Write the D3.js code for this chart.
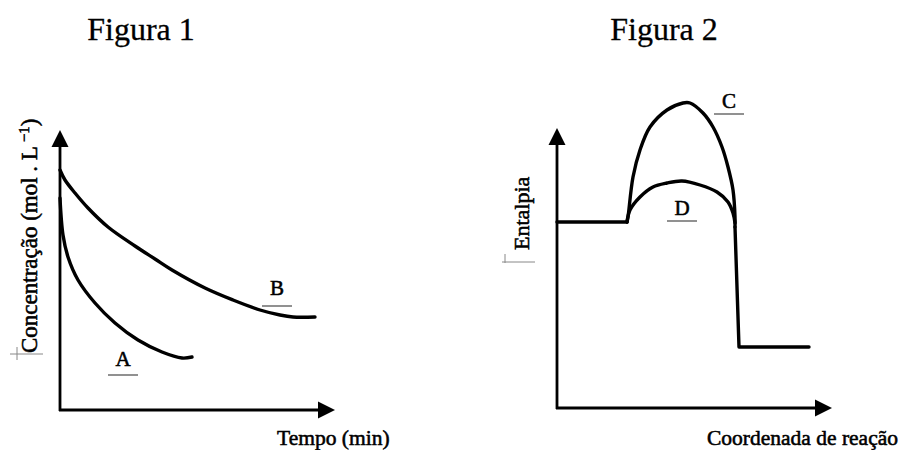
<!DOCTYPE html>
<html>
<head>
<meta charset="utf-8">
<script src="https://cdn.jsdelivr.net/npm/d3@7"></script>
<style>
  html, body { margin: 0; padding: 0; background: #fff; }
  svg { display: block; }
  text { font-family: "Liberation Serif", "Times New Roman", serif; fill: #000; }
  .lbl { stroke: #000; stroke-width: 0.55px; }
  .ttl { stroke: #000; stroke-width: 0.3px; }
</style>
</head>
<body>
<svg id="chart" width="904" height="450"></svg>
<script>
// ---------- DATA (arbitrary units) ----------
const titles = ["Figura 1", "Figura 2"];
const xLabels = ["Tempo (min)", "Coordenada de reação"];
const yLabel1 = "Concentração (mol . L";
const yLabel2 = "Entalpia";
const curveNames = ["A", "B", "C", "D"];

// Figura 1: concentration vs time
const curveA = [[0,212],[3,175],[8,153],[18,130],[35,107],[55,87],[78,70],[102,58],[122,52],[132,53]];
const curveB = [[0,240],[5,230],[15,217],[28,202],[48,183],[75,164],[95,151],[112,140],[145,122],[173,110],[200,100],[220,95],[233,93],[255,93]];

// Figura 2: enthalpy vs reaction coordinate
const reactantLevel = [[0,186],[70,186]];
const curveC = [[70,186],[71,191],[76,231],[83,258],[93,281],[110,298],[126,305],[133,305],[146,295],[156,281],[165,261],[171,241],[176,218],[178,191],[178,181]];
const curveD = [[70,186],[73,198],[83,211],[96,221],[110,225],[125,227],[143,223],[160,216],[171,206],[176,195],[178,185]];
const productDrop = [[178,181],[182,61],[252,61]];

// label anchor positions in data units
const labelPos1 = {A: [63,44], B: [217,115]};
const labelPos2 = {C: [172,300], D: [125,193]};

// ---------- DRAW ----------
const svg = d3.select("#chart");

const x1 = d3.scaleLinear().domain([0, 275]).range([60, 335]);
const y1 = d3.scaleLinear().domain([0, 280]).range([410, 130]);
const x2 = d3.scaleLinear().domain([0, 275]).range([557, 832]);
const y2 = d3.scaleLinear().domain([0, 280]).range([408, 128]);

function drawAxes(x, y) {
  const [x0, xEnd] = x.range();
  const [yBase, yTop] = y.range();
  const g = svg.append("g");
  const head = 17;
  g.append("line").attr("x1", x0).attr("y1", yBase + 1).attr("x2", x0).attr("y2", yTop + 8)
    .attr("stroke", "#000").attr("stroke-width", 2.8);
  g.append("line").attr("x1", x0 - 1).attr("y1", yBase).attr("x2", xEnd - 8).attr("y2", yBase)
    .attr("stroke", "#000").attr("stroke-width", 2.8);
  g.append("path")
    .attr("d", `M${x0 - head/2},${yTop + head}L${x0},${yTop}L${x0 + head/2},${yTop + head}Z`)
    .attr("fill", "#000");
  g.append("path")
    .attr("d", `M${xEnd - head},${yBase - head/2}L${xEnd},${yBase}L${xEnd - head},${yBase + head/2}Z`)
    .attr("fill", "#000");
}
drawAxes(x1, y1);
drawAxes(x2, y2);

function drawCurve(data, x, y, curve) {
  const line = d3.line().x(d => x(d[0])).y(d => y(d[1])).curve(curve);
  svg.append("path").attr("d", line(data))
    .attr("fill", "none").attr("stroke", "#000").attr("stroke-width", 3.4)
    .attr("stroke-linecap", "round").attr("stroke-linejoin", "round");
}
drawCurve(curveA, x1, y1, d3.curveCatmullRom);
drawCurve(curveB, x1, y1, d3.curveCatmullRom);
drawCurve(reactantLevel, x2, y2, d3.curveLinear);
drawCurve(curveC, x2, y2, d3.curveCatmullRom);
drawCurve(curveD, x2, y2, d3.curveCatmullRom);
drawCurve(productDrop, x2, y2, d3.curveLinear);

// Titles
svg.append("text").attr("class", "ttl").attr("x", 141).attr("y", 40).attr("text-anchor", "middle")
  .attr("font-size", 32).text(titles[0]);
svg.append("text").attr("class", "ttl").attr("x", 664).attr("y", 40).attr("text-anchor", "middle")
  .attr("font-size", 32).text(titles[1]);

// X-axis labels
svg.append("text").attr("class", "lbl").attr("x", 277).attr("y", 445)
  .attr("font-size", 21.5).text(xLabels[0]);
svg.append("text").attr("class", "lbl").attr("x", 707).attr("y", 445)
  .attr("font-size", 21.5).text(xLabels[1]);

// Y-axis labels
const yl1 = svg.append("text").attr("class", "lbl")
  .attr("transform", "translate(37,353) rotate(-90)")
  .attr("font-size", 23);
yl1.append("tspan").text(yLabel1);
yl1.append("tspan").attr("font-size", 15).attr("dy", -8).text(" \u22121");
yl1.append("tspan").attr("dy", 8).text(")");

svg.append("text").attr("class", "lbl")
  .attr("transform", "translate(529,250) rotate(-90)")
  .attr("font-size", 22).text(yLabel2);

// Curve letters with underlines
function letter(name, pos, x, y, ulDy) {
  const px = x(pos[0]), py = y(pos[1]);
  svg.append("text").attr("class", "lbl").attr("x", px).attr("y", py)
    .attr("text-anchor", "middle").attr("font-size", 21).text(name);
  svg.append("line").attr("x1", px - 15).attr("x2", px + 15)
    .attr("y1", py + ulDy).attr("y2", py + ulDy)
    .attr("stroke", "#555").attr("stroke-width", 1.3);
}
letter("A", labelPos1.A, x1, y1, 9);
letter("B", labelPos1.B, x1, y1, 11);
letter("C", labelPos2.C, x2, y2, 6);
letter("D", labelPos2.D, x2, y2, 6);

// faint scan marks beside y labels
const marks = [
  [10, 354, 43, 354], [17, 347, 17, 360],
  [502, 262, 535, 262], [505, 254, 505, 263]
];
svg.selectAll("line.mark").data(marks).enter().append("line").attr("class", "mark")
  .attr("x1", d => d[0]).attr("y1", d => d[1]).attr("x2", d => d[2]).attr("y2", d => d[3])
  .attr("stroke", "#888").attr("stroke-width", 1);
</script>
</body>
</html>
